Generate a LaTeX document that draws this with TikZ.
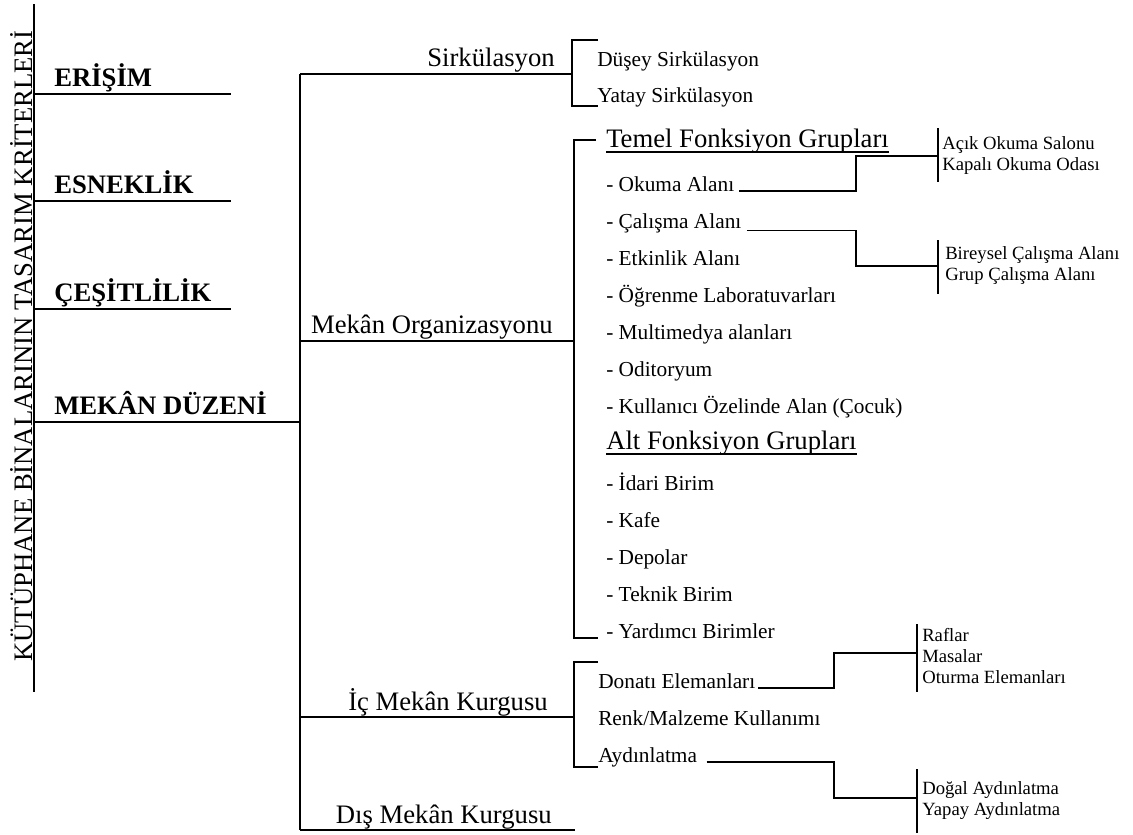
\documentclass[tikz,border=0pt]{standalone}
\usepackage{fontspec}
\setmainfont{Liberation Serif}
\usepackage{tikz}
\usetikzlibrary{positioning,calc}

\tikzset{
  ln/.style={line width=1pt},
  uline/.style={line width=1.5pt},
  titletxt/.style={font=\fontsize{20}{24}\selectfont, inner sep=0pt},
  crittxt/.style={font=\fontsize{20}{24}\selectfont\bfseries, anchor=base west, inner sep=0pt},
  grptxt/.style={font=\fontsize{20}{24}\selectfont, anchor=base east, inner sep=0pt},
  headtxt/.style={font=\fontsize{20}{24}\selectfont, anchor=base west, inner sep=0pt},
  itemtxt/.style={font=\fontsize{16}{19}\selectfont, anchor=base west, inner sep=0pt},
  subtxt/.style={font=\fontsize{14}{15.75}\selectfont, anchor=west, inner sep=0pt, align=left},
}

\begin{document}
\begin{tikzpicture}[x=0.75pt,y=-0.75pt]
\useasboundingbox (0,0) rectangle (1133,835);

% root bar and title
\coordinate (rtop) at (34,4);
\coordinate (rbot) at (34,692);
\draw[ln] (rtop) -- (rbot);
\node[titletxt, rotate=90, anchor=base] (title) at (32,346) {KÜTÜPHANE BİNALARININ TASARIM KRİTERLERİ};

% criteria
\foreach \nm/\txt/\y in {erisim/ERİŞİM/94, esnek/ESNEKLİK/201, cesit/ÇEŞİTLİLİK/309}{
  \node[crittxt] (\nm) at (54,\y-8) {\txt};
  \coordinate (\nm-e) at (231,\y);
  \draw[ln] (rtop |- \nm-e) -- (\nm-e);
}
\node[crittxt] (mekan) at (54,414) {MEKÂN DÜZENİ};
\coordinate (mekan-e) at (300,422);
\draw[ln] (rtop |- mekan-e) -- (mekan-e);

% second level
\coordinate (btop) at (300,74);
\coordinate (bbot) at (300,830);
\draw[ln] (btop) -- (bbot);
\node[grptxt] (sirk) at (555,66) {Sirkülasyon};
\node[grptxt] (mekorg) at (553,333) {Mekân Organizasyonu};
\node[grptxt] (icmek) at (548,710) {İç Mekân Kurgusu};
\node[grptxt] (dismek) at (552,823) {Dış Mekân Kurgusu};
\coordinate (sirk-b) at (572,74);
\coordinate (mekorg-b) at (574,341);
\coordinate (icmek-b) at (574,717);
\coordinate (dismek-e) at (575,830);
\draw[ln] (btop) -- (sirk-b);
\draw[ln] (btop |- mekorg-b) -- (mekorg-b);
\draw[ln] (btop |- icmek-b) -- (icmek-b);
\draw[ln] (bbot) -- (dismek-e);

% brackets
\draw[ln] (sirk-b) ++(26,-34) -| (sirk-b) |- ++(26,32);
\draw[ln] (mekorg-b) ++(22,-201) -| (mekorg-b) |- ++(24,297);
\draw[ln] (icmek-b) ++(24,-55) -| (icmek-b) |- ++(24,50);

% circulation
\node[itemtxt] (dusey) at (597,66) {Düşey Sirkülasyon};
\node[itemtxt] (yatay) at (597,102) {Yatay Sirkülasyon};

% function groups
\node[headtxt] (temel) at (606,147) {Temel Fonksiyon Grupları};
\draw[uline] ([yshift=-3.5pt]temel.base west) -- ([yshift=-3.5pt]temel.base east);
\foreach \nm/\txt/\y in {okuma/Okuma Alanı/191, calisma/Çalışma Alanı/228, etkin/Etkinlik Alanı/265,
    ogren/Öğrenme Laboratuvarları/302, multi/Multimedya alanları/339, odit/Oditoryum/376,
    kulla/Kullanıcı Özelinde Alan (Çocuk)/413}
  \node[itemtxt] (\nm) at (606,\y) {- \txt};
\node[headtxt] (alt) at (606,449) {Alt Fonksiyon Grupları};
\draw[uline] ([yshift=-3.5pt]alt.base west) -- ([yshift=-3.5pt]alt.base east);
\foreach \nm/\txt/\y in {idari/İdari Birim/490, kafe/Kafe/527, depo/Depolar/564,
    teknik/Teknik Birim/601, yardim/Yardımcı Birimler/638}
  \node[itemtxt] (\nm) at (606,\y) {- \txt};

% reading and working areas
\node[subtxt] (acik) at (942,156) {Açık Okuma Salonu\\Kapalı Okuma Odası};
\draw[ln] ($(acik.west)+(-4,-28)$) -- ($(acik.west)+(-4,26)$);
\draw[ln] ([xshift=3.5pt]okuma.base east) -| ($(acik.west)+(-86,0)$) -- ($(acik.west)+(-4,0)$);
\node[subtxt] (birey) at (945,266) {Bireysel Çalışma Alanı\\Grup Çalışma Alanı};
\draw[ln] ($(birey.west)+(-7,-26)$) -- ($(birey.west)+(-7,28)$);
\draw[ln] ([xshift=4pt,yshift=-2pt]calisma.base east) -| ($(birey.west)+(-89,0)$) -- ($(birey.west)+(-7,0)$);

% interior
\node[itemtxt] (donati) at (598,688) {Donatı Elemanları};
\node[itemtxt] (renk) at (598,725) {Renk/Malzeme Kullanımı};
\node[itemtxt] (aydin) at (598,762) {Aydınlatma};
\node[subtxt] (raf) at (922,656) {Raflar\\Masalar\\Oturma Elemanları};
\draw[ln] ($(raf.west)+(-5,-32)$) -- ($(raf.west)+(-5,36)$);
\draw[ln] ([xshift=2pt]donati.base east) -| ($(raf.west)+(-88,-3)$) -- ($(raf.west)+(-5,-3)$);
\node[subtxt] (dogal) at (922,801) {Doğal Aydınlatma\\Yapay Aydınlatma};
\draw[ln] ($(dogal.west)+(-5,-32)$) -- ($(dogal.west)+(-5,32)$);
\draw[ln] ([xshift=7pt]aydin.base east) -| ($(dogal.west)+(-88,-3)$) -- ($(dogal.west)+(-5,-3)$);
\end{tikzpicture}
\end{document}
